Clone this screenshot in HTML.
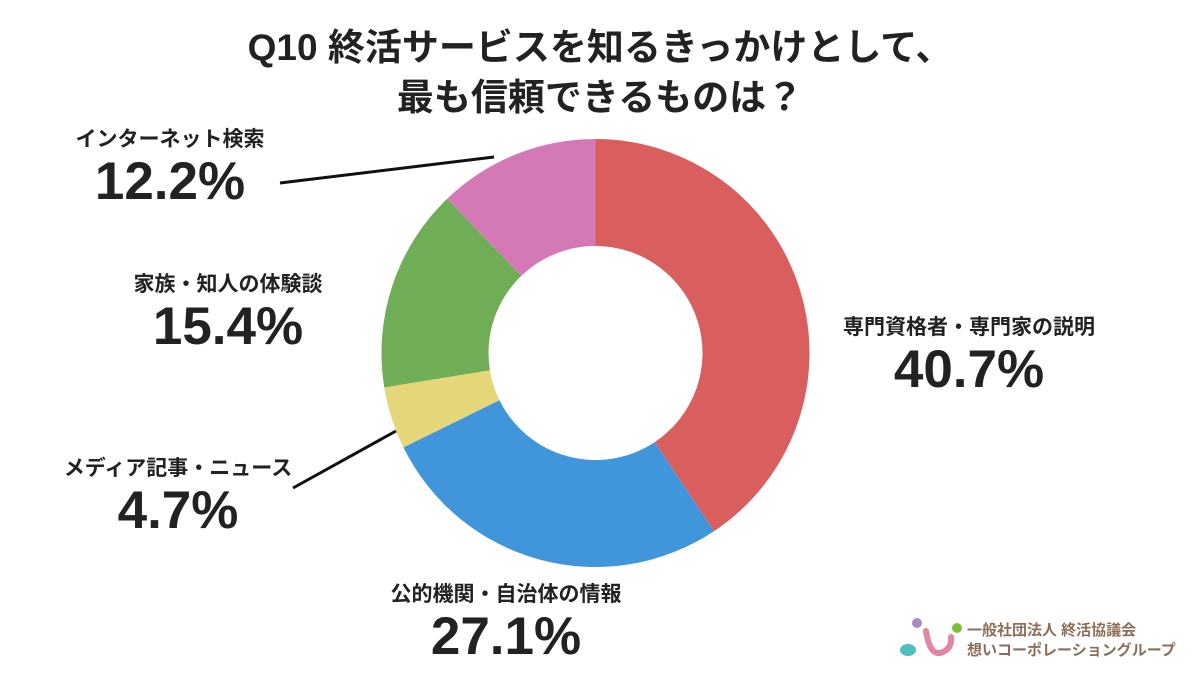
<!DOCTYPE html>
<html><head><meta charset="utf-8">
<style>
body{margin:0;width:1200px;height:675px;background:#fff;overflow:hidden;font-family:"Liberation Sans","Noto Sans CJK JP",sans-serif;}
svg text{font-family:"Liberation Sans","Noto Sans CJK JP",sans-serif;font-weight:bold;fill:#222;}
</style></head>
<body>
<svg id="chart" width="1200" height="675">
<text x="600" y="60" text-anchor="middle" font-size="37">Q10 終活サービスを知るきっかけとして、</text>
<text x="600" y="110" text-anchor="middle" font-size="37">最も信頼できるものは？</text>
<g id="slices"></g>
<line x1="280" y1="183" x2="494" y2="157" stroke="#111" stroke-width="3"/>
<line x1="293" y1="488" x2="396" y2="431" stroke="#111" stroke-width="3"/>
<g id="labels"></g>
<g>
<circle cx="917" cy="623" r="5" fill="#a98bc9"/>
<circle cx="957" cy="628" r="5" fill="#7cc13a"/>
<path d="M926 631 Q930 658 943 652 Q952 648 951 637" stroke="#e087a6" stroke-width="6" fill="none" stroke-linecap="round"/>
<ellipse cx="908" cy="650" rx="8" ry="6" fill="#4cc0c0"/>
<text x="967" y="635" font-size="15" style="fill:#8a6d5a">一般社団法人 終活協議会</text>
<text x="967" y="655" font-size="15" style="fill:#8a6d5a">想いコーポレーショングループ</text>
</g>
</svg>
<script>
const categories=["専門資格者・専門家の説明","公的機関・自治体の情報","メディア記事・ニュース","家族・知人の体験談","インターネット検索"];
const values=[40.7,27.1,4.7,15.4,12.2];
const valueLabels=["40.7%","27.1%","4.7%","15.4%","12.2%"];
const colors=["#d95f5f","#4196db","#e6d67a","#70ad57","#d479b5"];
const labelPos=[[969,334],[506,601],[178,475],[228,291],[170,146]];
const cx=595.5,cy=353,R=214,r=107;
const total=values.reduce((a,b)=>a+b,0);
const g=document.getElementById('slices');
const NS="http://www.w3.org/2000/svg";
function pt(a,rad){return [cx+rad*Math.sin(a),cy-rad*Math.cos(a)];}
let acc=0;
values.forEach((v,i)=>{
 const a0=acc/total*2*Math.PI; acc+=v; const a1=acc/total*2*Math.PI;
 const big=(a1-a0)>Math.PI?1:0;
 const [x0,y0]=pt(a0,R),[x1,y1]=pt(a1,R),[x2,y2]=pt(a1,r),[x3,y3]=pt(a0,r);
 const p=document.createElementNS(NS,'path');
 p.setAttribute('d',`M${x0} ${y0}A${R} ${R} 0 ${big} 1 ${x1} ${y1}L${x2} ${y2}A${r} ${r} 0 ${big} 0 ${x3} ${y3}Z`);
 p.setAttribute('fill',colors[i]);
 
 
 g.appendChild(p);
});
const lg=document.getElementById('labels');
categories.forEach((c,i)=>{
 const [x,y]=labelPos[i];
 const t=document.createElementNS(NS,'text');
 t.setAttribute('x',x);t.setAttribute('y',y);t.setAttribute('text-anchor','middle');t.setAttribute('font-size','21');
 t.textContent=c;
 
 
 lg.appendChild(t);
 const t2=document.createElementNS(NS,'text');
 t2.setAttribute('x',x);t2.setAttribute('y',y+53);t2.setAttribute('text-anchor','middle');t2.setAttribute('font-size','53');
 t2.textContent=valueLabels[i];
 
 
 lg.appendChild(t2);
});
</script>
</body></html>
